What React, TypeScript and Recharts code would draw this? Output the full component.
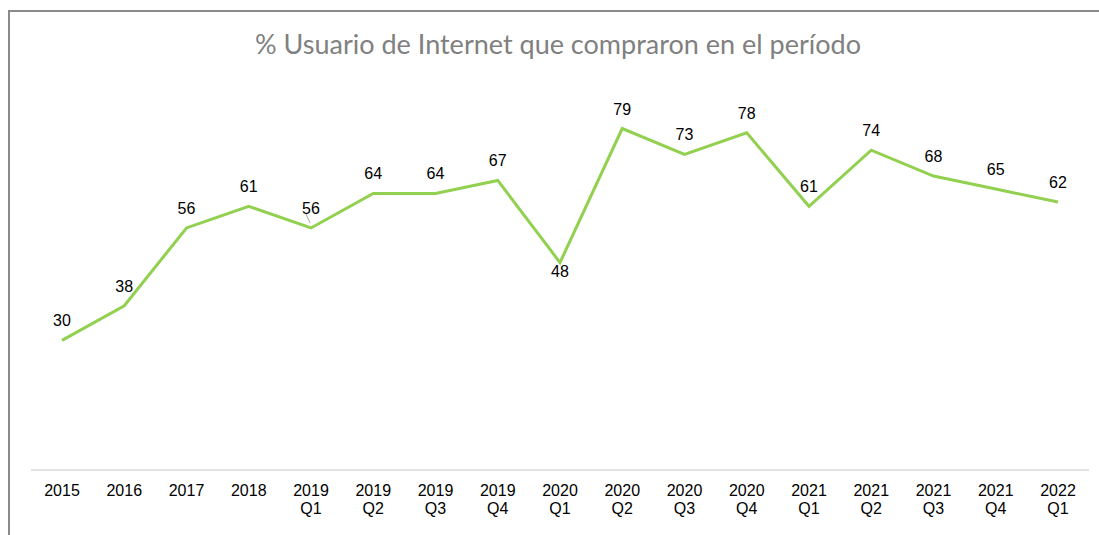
import React from 'react';
import { LineChart, Line, XAxis, YAxis, LabelList } from 'recharts';

const categories = [
  '2015', '2016', '2017', '2018',
  '2019\nQ1', '2019\nQ2', '2019\nQ3', '2019\nQ4',
  '2020\nQ1', '2020\nQ2', '2020\nQ3', '2020\nQ4',
  '2021\nQ1', '2021\nQ2', '2021\nQ3', '2021\nQ4',
  '2022\nQ1',
];

const values = [30, 38, 56, 61, 56, 64, 64, 67, 48, 79, 73, 78, 61, 74, 68, 65, 62];

const data = categories.map((cat, i) => ({ cat, value: values[i] }));

const labelFont = 'Arial, "Liberation Sans", sans-serif';

const CategoryTick = (props: any) => {
  const { x, y, payload } = props;
  const lines = String(payload.value).split('\n');
  return (
    <text x={x} y={y} textAnchor="middle" fill="#000" fontSize={16} fontFamily={labelFont}>
      {lines.map((l, i) => (
        <tspan key={i} x={x} dy={i === 0 ? 26 : 18}>
          {l}
        </tspan>
      ))}
    </text>
  );
};

const ValueLabel = (props: any) => {
  const { x, y, value, index } = props;
  // the 2020 Q1 label sits lower, inside the dip
  const dy = index === 8 ? 14 : -14;
  return (
    <g>
      {index === 4 && (
        <line x1={x - 5} y1={y - 14} x2={x - 1} y2={y - 5} stroke="#a6a6a6" strokeWidth={1} />
      )}
      <text x={x} y={y + dy} textAnchor="middle" fill="#000" fontSize={16} fontFamily={labelFont}>
        {value}
      </text>
    </g>
  );
};

export default function App() {
  return (
    <div
      style={{
        position: 'absolute',
        left: 0,
        top: 0,
        width: 1099,
        height: 535,
        overflow: 'hidden',
        background: '#fff',
      }}
    >
      <div
        style={{
          position: 'absolute',
          left: 8,
          top: 10,
          width: 1200,
          height: 600,
          borderLeft: '2px solid #8a8a8a',
          borderTop: '2px solid #8a8a8a',
        }}
      />
      <div
        style={{
          position: 'absolute',
          left: 0,
          width: 1116,
          top: 28,
          textAlign: 'center',
          fontFamily: 'Lato, "Open Sans", sans-serif',
          fontSize: 27,
          color: '#808080',
          lineHeight: '32px',
        }}
      >
        % Usuario de Internet que compraron en el período
      </div>
      <div style={{ position: 'absolute', left: 0, top: 0 }}>
        <LineChart width={1099} height={535} data={data} margin={{ top: 81, right: 10, bottom: 35, left: 31 }}>
          <XAxis
            dataKey="cat"
            interval={0}
            height={30}
            tickLine={false}
            tickSize={0}
            tickMargin={0}
            axisLine={{ stroke: '#d9d9d9', strokeWidth: 1.5 }}
            padding={{ left: 31, right: 31 }}
            tick={<CategoryTick />}
          />
          <YAxis hide domain={[0, 90]} />
          <Line
            type="linear"
            dataKey="value"
            stroke="#92d050"
            strokeWidth={3}
            dot={false}
            activeDot={false}
            isAnimationActive={false}
          >
            <LabelList dataKey="value" content={<ValueLabel />} />
          </Line>
        </LineChart>
      </div>
    </div>
  );
}
